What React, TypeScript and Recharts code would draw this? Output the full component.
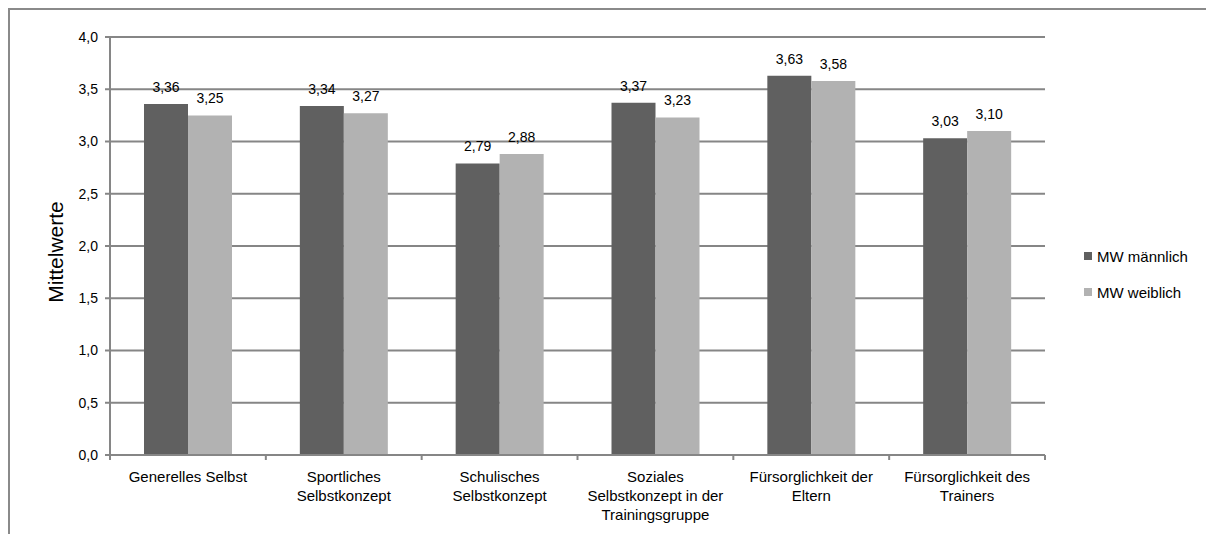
import React from "react";
import {
  Bar,
  BarChart,
  CartesianGrid,
  LabelList,
  XAxis,
  YAxis,
} from "recharts";

// Mittelwerte der Skalen, getrennt nach Geschlecht
const categories = [
  "Generelles Selbst",
  "Sportliches Selbstkonzept",
  "Schulisches Selbstkonzept",
  "Soziales Selbstkonzept in der Trainingsgruppe",
  "Fürsorglichkeit der Eltern",
  "Fürsorglichkeit des Trainers",
];

// Zeilenumbrüche der Achsenbeschriftung wie im Original
const categoryLines = [
  ["Generelles Selbst"],
  ["Sportliches", "Selbstkonzept"],
  ["Schulisches", "Selbstkonzept"],
  ["Soziales", "Selbstkonzept in der", "Trainingsgruppe"],
  ["Fürsorglichkeit der", "Eltern"],
  ["Fürsorglichkeit des", "Trainers"],
];

const mwMaennlich = [3.36, 3.34, 2.79, 3.37, 3.63, 3.03];
const mwWeiblich = [3.25, 3.27, 2.88, 3.23, 3.58, 3.1];

const yTicks = [0, 0.5, 1, 1.5, 2, 2.5, 3, 3.5, 4];

const data = categories.map((name, i) => ({
  name,
  maennlich: mwMaennlich[i],
  weiblich: mwWeiblich[i],
}));

const FONT = "'Liberation Sans', Arial, sans-serif";
const GRID = "#868686";
const DARK = "#606060";
const LIGHT = "#b2b2b2";

const CHART_W = 1204;
const CHART_H = 524;
const MARGIN = { top: 27, right: 169, bottom: 0, left: 0 };
const Y_AXIS_W = 100;
const PLOT_W = CHART_W - MARGIN.left - MARGIN.right - Y_AXIS_W;
const BAND = PLOT_W / categories.length;
const TICK_SIZE = 5;
const TICK_MARGIN = 11;

const fmt = (v: number, digits: number) => v.toFixed(digits).replace(".", ",");

// X-Achsen-Beschriftung mehrzeilig + Teilstriche an den Kategoriegrenzen
function CategoryTick(props: any) {
  const { x, y, payload, index } = props;
  const axisY = y - TICK_SIZE - TICK_MARGIN;
  const lines = categoryLines[index] ?? [payload.value];
  return (
    <g>
      {index === 0 && (
        <line
          x1={x - BAND / 2}
          x2={x - BAND / 2}
          y1={axisY}
          y2={axisY + TICK_SIZE}
          stroke={GRID}
          strokeWidth={2}
        />
      )}
      <line
        x1={x + BAND / 2}
        x2={x + BAND / 2}
        y1={axisY}
        y2={axisY + TICK_SIZE}
        stroke={GRID}
        strokeWidth={2}
      />
      <text
        x={x}
        y={y}
        textAnchor="middle"
        fontSize={15}
        fontFamily={FONT}
        fill="#000"
      >
        {lines.map((l: string, i: number) => (
          <tspan key={i} x={x} dy={i === 0 ? "0.71em" : 19}>
            {l}
          </tspan>
        ))}
      </text>
    </g>
  );
}

function YTitle() {
  return (
    <text
      x={53}
      y={242}
      transform="rotate(-90, 53, 242)"
      textAnchor="middle"
      fontSize={21}
      fontFamily={FONT}
      fill="#000"
    >
      Mittelwerte
    </text>
  );
}

const legendItems = [
  { label: "MW männlich", color: DARK },
  { label: "MW weiblich", color: LIGHT },
];

export default function App() {
  return (
    <div
      style={{
        position: "relative",
        width: 1206,
        height: 526,
        boxSizing: "border-box",
        borderTop: "2px solid #8a8a8a",
        borderLeft: "2px solid #8a8a8a",
        fontFamily: FONT,
      }}
    >
      <BarChart
        width={CHART_W}
        height={CHART_H}
        data={data}
        margin={MARGIN}
        barGap={0}
      >
        <CartesianGrid vertical={false} stroke={GRID} strokeWidth={2} />
        <XAxis
          dataKey="name"
          interval={0}
          height={CHART_H - MARGIN.top - 418}
          axisLine={{ stroke: GRID, strokeWidth: 2 }}
          tickLine={false}
          tickSize={TICK_SIZE}
          tickMargin={TICK_MARGIN}
          tick={<CategoryTick />}
        />
        <YAxis
          width={Y_AXIS_W}
          domain={[0, 4]}
          ticks={yTicks}
          interval={0}
          tickFormatter={(v: number) => fmt(v, 1)}
          axisLine={{ stroke: GRID, strokeWidth: 2 }}
          tickLine={{ stroke: GRID, strokeWidth: 2 }}
          tickSize={5}
          tickMargin={7}
          tick={{ fontSize: 14, fontFamily: FONT, fill: "#000" }}
          label={<YTitle />}
        />
        <Bar
          dataKey="maennlich"
          name="MW männlich"
          fill={DARK}
          barSize={44}
          isAnimationActive={false}
        >
          <LabelList
            dataKey="maennlich"
            position="top"
            offset={12}
            formatter={(v: any) => fmt(Number(v), 2)}
            style={{ fontSize: 14, fontFamily: FONT, fill: "#000" }}
          />
        </Bar>
        <Bar
          dataKey="weiblich"
          name="MW weiblich"
          fill={LIGHT}
          barSize={44}
          isAnimationActive={false}
        >
          <LabelList
            dataKey="weiblich"
            position="top"
            offset={12}
            formatter={(v: any) => fmt(Number(v), 2)}
            style={{ fontSize: 14, fontFamily: FONT, fill: "#000" }}
          />
        </Bar>
      </BarChart>
      <div style={{ position: "absolute", left: 1074, top: 236 }}>
        {legendItems.map((it) => (
          <div
            key={it.label}
            style={{
              display: "flex",
              alignItems: "center",
              height: 20,
              marginBottom: 16,
              fontSize: 15,
              color: "#000",
            }}
          >
            <span
              style={{
                display: "inline-block",
                width: 8,
                height: 8,
                background: it.color,
                marginRight: 5,
              }}
            />
            {it.label}
          </div>
        ))}
      </div>
    </div>
  );
}
